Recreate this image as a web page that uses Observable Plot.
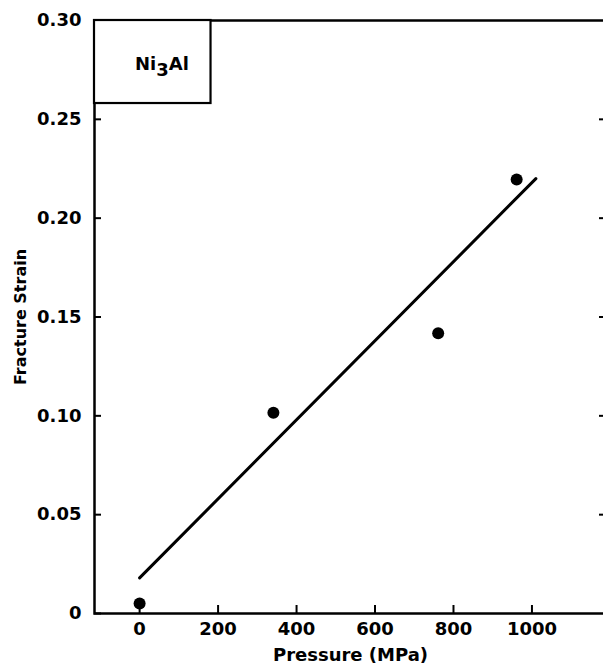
<!DOCTYPE html>
<html><head><meta charset="utf-8">
<script src="https://cdn.jsdelivr.net/npm/d3@7"></script>
<script src="https://cdn.jsdelivr.net/npm/@observablehq/plot@0.6"></script>
<style>html,body{margin:0;padding:0;overflow:hidden;background:#fff}</style>
</head><body><div id="chart"></div>
<script>
// Data
const pressure = [0, 341, 761, 961];
const fractureStrain = [0.005, 0.1016, 0.1418, 0.2196];
const fitPressure = [0, 1010];
const fitStrain = [0.018, 0.220];
const xTicks = [0, 200, 400, 600, 800, 1000];
const yTicks = [0, 0.05, 0.10, 0.15, 0.20, 0.25, 0.30];
const yTickLabels = ["0", "0.05", "0.10", "0.15", "0.20", "0.25", "0.30"];
const xDomain = [-115, 1190];
const yDomain = [0, 0.30];
const boxX = [-115, 182];
const boxY = [0.258, 0.30];
const materialLabelPos = [57, 0.278];
const materialLabel = ["Ni", "3", "Al"];

const points = pressure.map((p, i) => ({p, s: fractureStrain[i]}));
const fit = fitPressure.map((p, i) => ({p, s: fitStrain[i]}));
const font = "'DejaVu Sans', sans-serif";

const chart = Plot.plot({
  width: 603, height: 669,
  marginLeft: 94, marginRight: -3, marginTop: 20, marginBottom: 56,
  style: {fontFamily: font, fontSize: "18px", fontWeight: "bold", color: "black", background: "white"},
  x: {domain: xDomain},
  y: {domain: yDomain},
  marks: [
    Plot.axisX(xTicks, {tickSize: -8, tickPadding: 17, strokeWidth: 2, fontSize: 18,
      tickFormat: d => String(d),
      label: "Pressure (MPa)", labelAnchor: "center", labelOffset: 47, labelArrow: "none"}),
    Plot.axisY(yTicks, {tickSize: -7, tickPadding: 20, strokeWidth: 2, fontSize: 18,
      tickFormat: d => yTickLabels[yTicks.indexOf(d)],
      label: "Fracture Strain", labelAnchor: "center", labelOffset: 80, labelArrow: "none"}),
    Plot.axisY(yTicks.slice(1, -1), {anchor: "right", tickSize: -8, strokeWidth: 2,
      tickFormat: () => "", label: null}),
    Plot.frame({stroke: "black", strokeWidth: 2.5}),
    Plot.rect([{x1: boxX[0], x2: boxX[1], y1: boxY[0], y2: boxY[1]}],
      {x1: "x1", x2: "x2", y1: "y1", y2: "y2", fill: "white", stroke: "black", strokeWidth: 2.2}),
    Plot.text([{x: materialLabelPos[0], y: materialLabelPos[1]}],
      {x: "x", y: "y", text: () => materialLabel.join(""), fontSize: 18, className: "matlabel"}),
    Plot.line(fit, {x: "p", y: "s", stroke: "black", strokeWidth: 3}),
    Plot.dot(points, {x: "p", y: "s", r: 6, fill: "black", stroke: "none"})
  ]
});
document.getElementById("chart").appendChild(chart);

// Subscript "3" in Ni3Al as real text
d3.select(chart).selectAll("g.matlabel text").each(function() {
  const t = d3.select(this);
  t.text(null);
  t.append("tspan").text(materialLabel[0]);
  t.append("tspan").attr("dy", "0.35em").text(materialLabel[1]);
  t.append("tspan").attr("dy", "-0.35em").text(materialLabel[2]);
});
// y-axis label a bit smaller
d3.select(chart).selectAll("[aria-label='y-axis label'] text").style("font-size", "16px");
</script>
</body></html>
